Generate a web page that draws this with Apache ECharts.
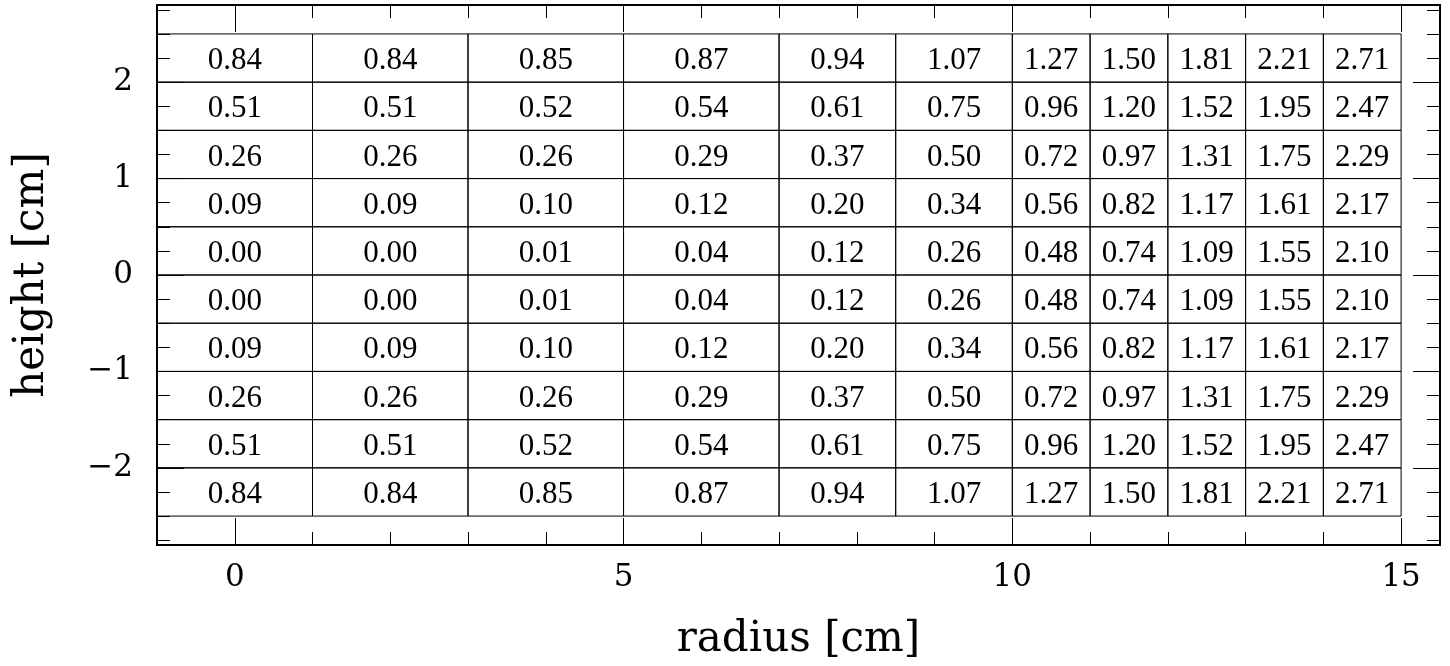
<!DOCTYPE html>
<html><head><meta charset="utf-8">
<script src="https://cdn.jsdelivr.net/npm/echarts@6/dist/echarts.min.js"></script>
<style>html,body{margin:0;padding:0;background:#fff}#c{width:1450px;height:666px}</style>
</head><body><div id="c"></div>
<script>
// cell edges (radius and height, cm)
const xEdges = [-1, 1, 3, 5, 7, 8.5, 10, 11, 12, 13, 14, 15];
const yEdges = [2.5, 2, 1.5, 1, 0.5, 0, -0.5, -1, -1.5, -2, -2.5];
// values per row, from top (height 2.0..2.5) to bottom (-2.5..-2.0)
const row1  = [0.84, 0.84, 0.85, 0.87, 0.94, 1.07, 1.27, 1.50, 1.81, 2.21, 2.71];
const row2  = [0.51, 0.51, 0.52, 0.54, 0.61, 0.75, 0.96, 1.20, 1.52, 1.95, 2.47];
const row3  = [0.26, 0.26, 0.26, 0.29, 0.37, 0.50, 0.72, 0.97, 1.31, 1.75, 2.29];
const row4  = [0.09, 0.09, 0.10, 0.12, 0.20, 0.34, 0.56, 0.82, 1.17, 1.61, 2.17];
const row5  = [0.00, 0.00, 0.01, 0.04, 0.12, 0.26, 0.48, 0.74, 1.09, 1.55, 2.10];
const row6  = [0.00, 0.00, 0.01, 0.04, 0.12, 0.26, 0.48, 0.74, 1.09, 1.55, 2.10];
const row7  = [0.09, 0.09, 0.10, 0.12, 0.20, 0.34, 0.56, 0.82, 1.17, 1.61, 2.17];
const row8  = [0.26, 0.26, 0.26, 0.29, 0.37, 0.50, 0.72, 0.97, 1.31, 1.75, 2.29];
const row9  = [0.51, 0.51, 0.52, 0.54, 0.61, 0.75, 0.96, 1.20, 1.52, 1.95, 2.47];
const row10 = [0.84, 0.84, 0.85, 0.87, 0.94, 1.07, 1.27, 1.50, 1.81, 2.21, 2.71];
const rows = [row1, row2, row3, row4, row5, row6, row7, row8, row9, row10];
// ticks
const xMajorTicks = [0, 5, 10, 15];
const xMinorTicks = [0, 1, 2, 3, 4, 5, 6, 7, 8, 9, 10, 11, 12, 13, 14, 15];
const yMajorTicks = [-2, -1, 0, 1, 2];
const yMinorTicks = [-2.75, -2.5, -2.25, -2, -1.75, -1.5, -1.25, -1, -0.75, -0.5, -0.25, 0,
                     0.25, 0.5, 0.75, 1, 1.25, 1.5, 1.75, 2, 2.25, 2.5, 2.75];

const cells = [];
rows.forEach((row, r) => row.forEach((v, c) => {
  cells.push([(xEdges[c] + xEdges[c + 1]) / 2, (yEdges[r] + yEdges[r + 1]) / 2, v, c, r]);
}));

const BLACK = '#000';
const tickFont = { fontFamily: 'DejaVu Serif', fontSize: 31, color: BLACK };
const nameFont = { fontFamily: 'DejaVu Serif', fontSize: 42, color: BLACK };
const fmtY = v => v < 0 ? '\u2212' + Math.abs(v) : String(v);

function xAx(pos, ticks, len, labels) {
  return {
    type: 'value', min: -1, max: 15.5, position: pos, z: 5,
    axisLine: { show: true, onZero: false, lineStyle: { color: BLACK, width: 2 } },
    axisTick: { show: true, inside: true, length: len, customValues: ticks, lineStyle: { color: BLACK, width: 1 } },
    axisLabel: labels ? Object.assign({ show: true, customValues: ticks, margin: 17 }, tickFont) : { show: false },
    splitLine: { show: false }
  };
}
function yAx(pos, ticks, len, labels) {
  return {
    type: 'value', min: -2.8, max: 2.8, position: pos, z: 5,
    axisLine: { show: true, onZero: false, lineStyle: { color: BLACK, width: 2 } },
    axisTick: { show: true, inside: true, length: len, customValues: ticks, lineStyle: { color: BLACK, width: 1 } },
    axisLabel: labels ? Object.assign({ show: true, customValues: ticks, margin: 24, formatter: fmtY }, tickFont) : { show: false },
    splitLine: { show: false }
  };
}

const xMain = xAx('bottom', xMajorTicks, 27, true);
xMain.name = 'radius [cm]';
xMain.nameLocation = 'middle';
xMain.nameGap = 74;
xMain.nameTextStyle = nameFont;
const yMain = yAx('left', yMajorTicks, 27, true);
yMain.name = 'height [cm]';
yMain.nameLocation = 'middle';
yMain.nameRotate = 90;
yMain.nameGap = 104;
yMain.nameTextStyle = nameFont;

const chart = echarts.init(document.getElementById('c'), null, { renderer: 'canvas' });
chart.setOption({
  animation: false,
  backgroundColor: '#fff',
  grid: { left: 157, right: 10, top: 5, bottom: 120, containLabel: false },
  xAxis: [xMain, xAx('bottom', xMinorTicks, 13, false), xAx('top', xMajorTicks, 27, false), xAx('top', xMinorTicks, 13, false)],
  yAxis: [yMain, yAx('left', yMinorTicks, 13, false), yAx('right', yMajorTicks, 27, false), yAx('right', yMinorTicks, 13, false)],
  series: [{
    type: 'custom', xAxisIndex: 0, yAxisIndex: 0, z: 1, clip: false,
    data: cells,
    renderItem: function (params, api) {
      const c = api.value(3), r = api.value(4), v = api.value(2);
      const p0 = api.coord([xEdges[c], yEdges[r]]);
      const p1 = api.coord([xEdges[c + 1], yEdges[r + 1]]);
      return {
        type: 'group',
        children: [
          { type: 'rect', shape: { x: p0[0], y: p0[1], width: p1[0] - p0[0], height: p1[1] - p0[1] },
            style: { fill: 'none', stroke: BLACK, lineWidth: 1 } },
          { type: 'text', style: { text: v.toFixed(2), x: (p0[0] + p1[0]) / 2, y: (p0[1] + p1[1]) / 2 + 3,
            align: 'center', verticalAlign: 'middle', font: '31px "Liberation Serif"', fill: BLACK } }
        ]
      };
    }
  }]
});
</script></body></html>
